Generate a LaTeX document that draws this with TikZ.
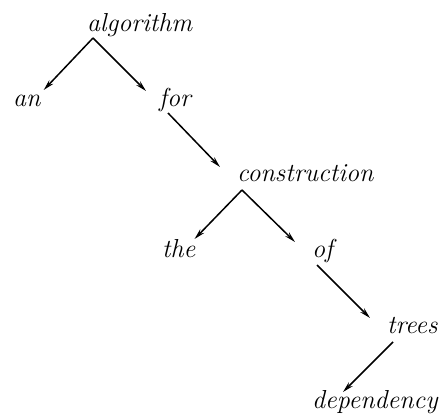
\documentclass[tikz,border=0pt]{standalone}
\usepackage{tikz}
\usetikzlibrary{arrows.meta,calc}

\begin{document}
\begin{tikzpicture}[x=1pt,y=1pt,
 word/.style={inner sep=0pt,anchor=base west,font=\fontsize{26}{30}\selectfont\itshape},
 link/.style={-{Stealth[length=11pt,width=5.5pt]},line width=1.5pt}]
\useasboundingbox (0,0) rectangle (442,413);
\node[word] (alg) at (87,381) {algorithm};
\node[word] (an) at (13,306) {an};
\node[word] (for) at (159,306) {for};
\node[word] (cons) at (237,231) {construction};
\node[word] (the) at (162,156) {the};
\node[word] (of) at (312,156) {of};
\node[word] (trees) at (387,80) {trees};
\node[word] (depy) at (312,5) {dependency};
% heads point down to their dependents
\draw[link] ($(alg.base west)+(6,-6)$) -- ($(an.base east)+(3,17)$);
\draw[link] ($(alg.base west)+(6,-6)$) -- ($(for.base west)+(-13,16)$);
\draw[link] ($(for.base west)+(9,-6)$) -- ($(cons.base west)+(-17,15)$);
\draw[link] ($(cons.base west)+(5,-8)$) -- ($(the.base east)+(-1,18)$);
\draw[link] ($(cons.base west)+(5,-8)$) -- ($(of.base west)+(-17,15)$);
\draw[link] ($(of.base west)+(5,-8)$) -- ($(trees.base west)+(-17,15)$);
\draw[link] ($(trees.base west)+(6,-9)$) -- ($(depy.base west)+(31,16)$);
\end{tikzpicture}
\end{document}
